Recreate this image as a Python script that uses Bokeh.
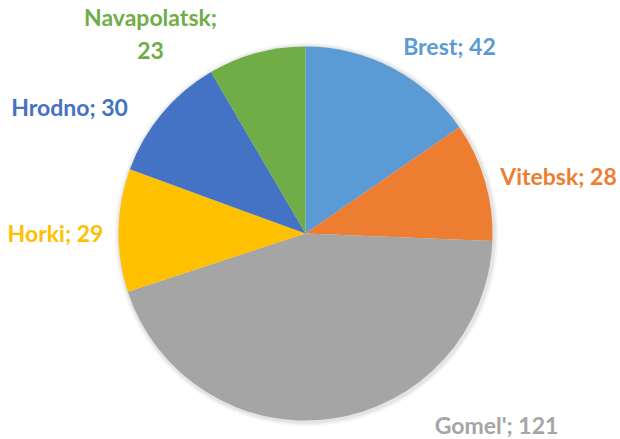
import math
from bokeh.plotting import figure
from bokeh.models import ColumnDataSource
from bokeh.core.properties import value
from bokeh.embed import file_html
from bokeh.resources import INLINE

# ---- data ----
cities = ["Brest", "Vitebsk", "Gomel'", "Horki", "Hrodno", "Navapolatsk"]
counts = [42, 28, 121, 29, 30, 23]
colors = ["#5B9BD5", "#ED7D31", "#A5A5A5", "#FFC000", "#4472C4", "#70AD47"]

# ---- layout ----
W, H = 620, 439
cx, cy, R = 305, H - 233, 187
# label centres (pixel coords, y from top)
label_pos = [(449, 45), (558, 175), (496, 424), (55, 232), (69, 106), (150, 33)]

total = float(sum(counts))
starts, ends = [], []
acc = 0.0
for c in counts:
    starts.append(math.pi / 2 - 2 * math.pi * acc / total)
    acc += c
    ends.append(math.pi / 2 - 2 * math.pi * acc / total)

p = figure(width=W, height=H, x_range=(0, W), y_range=(0, H),
           output_backend="svg", toolbar_location=None, min_border=0)
p.axis.visible = False
p.grid.visible = False
p.outline_line_color = None
p.background_fill_color = "white"

# soft shadow around the pie
for i, a in enumerate([0.04, 0.05, 0.06, 0.08]):
    p.circle(x=cx + 1, y=cy - 1, radius=R + 5 - i, fill_color="#808080",
             fill_alpha=a, line_color=None)

src = ColumnDataSource(dict(city=cities, count=counts, color=colors,
                            start=starts, end=ends))
p.wedge(x=cx, y=cy, radius=R, start_angle="start", end_angle="end",
        direction="clock", fill_color="color", line_color=None, source=src)

texts, lx, ly = [], [], []
for name, c, (px, py) in zip(cities, counts, label_pos):
    if name == "Navapolatsk":
        texts.append(f"{name};\n{c}")
    else:
        texts.append(f"{name}; {c}")
    lx.append(px)
    ly.append(H - py)

lsrc = ColumnDataSource(dict(x=lx, y=ly, t=texts, color=colors))
p.text(x="x", y="y", text="t", source=lsrc, text_color="color",
       text_font=value("Lato"), text_font_style="bold", text_font_size="23px",
       text_align="center", text_baseline="middle", text_line_height=1.15)

open("out.html", "w").write(file_html(p, INLINE))
